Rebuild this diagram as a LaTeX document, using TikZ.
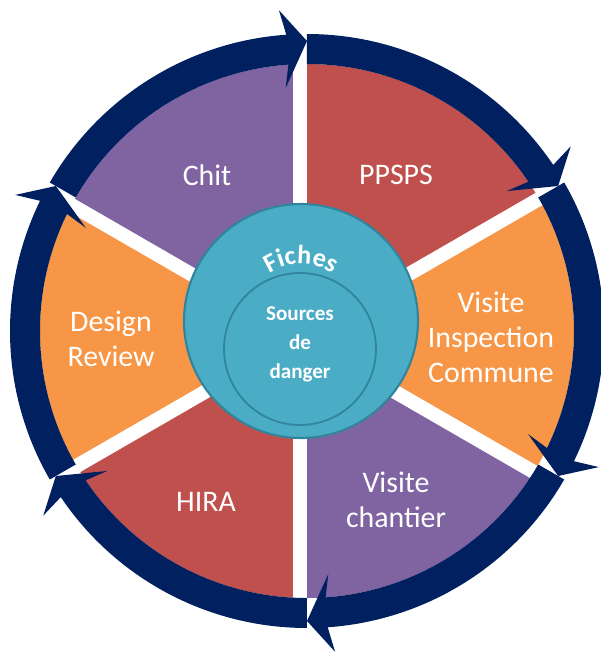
\documentclass[tikz,border=0pt]{standalone}
\usepackage{fontspec}
\setmainfont{Carlito}
\usetikzlibrary{decorations.text}

\definecolor{chitpurple}{HTML}{8064A2}
\definecolor{ppspsred}{HTML}{C0504D}
\definecolor{visiteorange}{HTML}{F79646}
\definecolor{ringblue}{HTML}{002060}
\definecolor{fichesteal}{HTML}{4BACC6}
\definecolor{fichesedge}{HTML}{31849B}
\newcommand{\fichesfont}{\bfseries\fontsize{15}{15}\selectfont}

\tikzset{
  seclabel/.style={text=white, align=center, font=\fontsize{17}{20}\selectfont},
  gapline/.style={white, line width=8pt},
}

\begin{document}
\begin{tikzpicture}[x=0.02cm, y=0.02cm]
\useasboundingbox (-307,-326) rectangle (293,331);
\coordinate (P) at (-7,-6);
% the six sectors
\begin{scope}
\clip (0,0) circle[radius=267];
\fill[chitpurple] (P) -- +(90:450) -- +(150:450) -- cycle;
\fill[ppspsred] (P) -- +(30:450) -- +(90:450) -- cycle;
\fill[visiteorange] (P) -- +(-30:450) -- +(30:450) -- cycle;
\fill[chitpurple] (P) -- +(-90:450) -- +(-30:450) -- cycle;
\fill[ppspsred] (P) -- +(-150:450) -- +(-90:450) -- cycle;
\fill[visiteorange] (P) -- +(150:450) -- +(210:450) -- cycle;
\end{scope}
\foreach \g in {90,30,-30,-90,-150,150}
  \draw[gapline] (P) -- +(\g:300);
% arrows round the ring
\foreach \b in {90,30,-30,-90,-150,150}
  \fill[ringblue] ({\b+60}:267) -- ({\b+60}:297)
    arc[start angle=\b+60, end angle=\b+4, radius=297]
    -- ({\b+5}:322) -- (\b:290) -- ({\b+5}:244) -- ({\b+4}:267)
    arc[start angle=\b+4, end angle=\b+60, radius=267] -- cycle;
% centre
\filldraw[fill=fichesteal, draw=fichesedge, line width=1.2pt] (-6,10) circle[radius=117];
\filldraw[fill=fichesteal, draw=fichesedge, line width=1pt] (-7,-18) circle[radius=76];
\path[decoration={text along path, text={|\fichesfont|Fiches}, text align=center, text color=white}, decorate]
  ([shift={(-6,10)}]150:57) arc[start angle=150, end angle=30, radius=57];
\node[text=white, align=center, font=\bfseries\fontsize{12}{16.5}\selectfont] (sources) at (-7,-13) {Sources\\de\\danger};

\node[seclabel] (chit) at (-100,156) {Chit};
\node[seclabel] (ppsps) at (89,156) {PPSPS};
\node[seclabel] (inspection) at (184,-6) {Visite\\Inspection\\Commune};
\node[seclabel] (chantier) at (89,-169) {Visite\\chantier};
\node[seclabel] (hira) at (-101,-171) {HIRA};
\node[seclabel] (design) at (-196,-8) {Design\\Review};
\end{tikzpicture}
\end{document}
